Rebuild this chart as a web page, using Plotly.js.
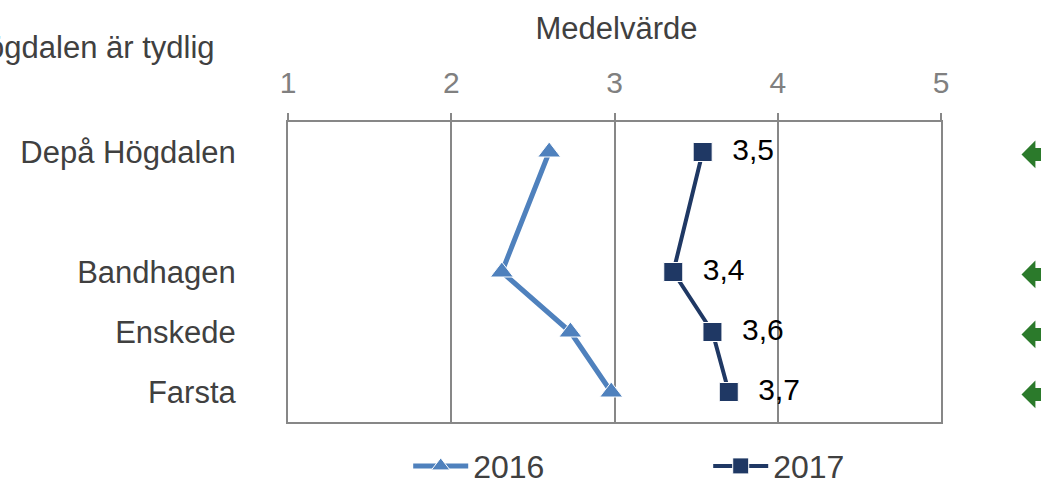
<!DOCTYPE html>
<html>
<head>
<meta charset="utf-8">
<script src="https://cdn.plot.ly/plotly-3.0.1.min.js"></script>
<style>
  html, body { margin: 0; padding: 0; background: #fff; }
  #chart { width: 1041px; height: 479px; }
</style>
</head>
<body>
<div id="chart"></div>
<script>
// --- data ---
const categories = ['Depå Högdalen', ' ', 'Bandhagen', 'Enskede', 'Farsta'];
const places = ['Depå Högdalen', 'Bandhagen', 'Enskede', 'Farsta'];
const values2016 = [2.60, 2.31, 2.73, 2.98];
const values2017 = [3.54, 3.36, 3.60, 3.70];
const trendPlaces = ['Depå Högdalen', 'Bandhagen', 'Enskede', 'Farsta'];
const xTicks = [1, 2, 3, 4, 5];

const font = 'Arial, "Liberation Sans", sans-serif';
const gridColor = '#878787';

const trace2016 = {
    x: values2016, y: places, name: '2016',
    type: 'scatter', mode: 'lines+markers',
    line: { color: '#4f81bd', width: 5 },
    marker: { symbol: 'triangle-up', size: 20, color: '#4f81bd', line: { color: '#fff', width: 1 } },
    cliponaxis: false
};

const trace2017 = {
    x: values2017, y: places, name: '2017',
    type: 'scatter', mode: 'lines+markers+text',
    line: { color: '#1f3864', width: 4 },
    marker: { symbol: 'square', size: 19, color: '#1f3864', line: { color: '#fff', width: 1 } },
    texttemplate: '  %{x:.1f}', textposition: 'middle right',
    textfont: { family: font, size: 30, color: '#000' },
    cliponaxis: false
};

// gröna trendpilar till höger (delvis utanför bild)
const arrows = trendPlaces.map(p => ({
    xref: 'paper', yref: 'y', x: 1.118, y: p,
    text: '⬅', showarrow: false, xanchor: 'left', yanchor: 'middle',
    font: { family: 'DejaVu Sans', size: 56, color: '#2b7a2b' }
}));

const layout = {
    width: 1041, height: 479,
    margin: { l: 288, r: 100, t: 122, b: 57, autoexpand: false },
    paper_bgcolor: '#fff', plot_bgcolor: '#fff',
    separators: ',.',
    font: { family: font, size: 31, color: '#404040' },
    title: {
        text: 'Medelvärde', xref: 'paper', x: 0.503, xanchor: 'center',
        yref: 'container', y: 0.942, yanchor: 'middle',
        font: { family: font, size: 31, color: '#404040' }
    },
    xaxis: {
        side: 'top', range: [1, 5], tickvals: xTicks, ticktext: xTicks.map(String),
        showgrid: true, gridcolor: gridColor, gridwidth: 2,
        showline: true, linecolor: gridColor, linewidth: 2, mirror: true,
        ticks: 'outside', ticklen: 7, tickwidth: 2, tickcolor: gridColor,
        ticklabelstandoff: 8,
        tickfont: { family: font, size: 30, color: '#808080' },
        zeroline: false, fixedrange: true
    },
    yaxis: {
        type: 'category', categoryorder: 'array', categoryarray: categories,
        range: [4.5, -0.5], showgrid: false,
        showline: true, linecolor: gridColor, linewidth: 2, mirror: true,
        ticks: '', ticklabelstandoff: 44,
        tickfont: { family: font, size: 31, color: '#404040' },
        fixedrange: true
    },
    showlegend: true,
    legend: {
        orientation: 'h', xref: 'paper', x: 0.6435, xanchor: 'center',
        y: -0.147, yanchor: 'middle',
        itemwidth: 55,
        entrywidth: 230, entrywidthmode: 'pixels',
        font: { family: font, size: 32, color: '#404040' }
    },
    annotations: [
        {
            xref: 'paper', yref: 'paper', x: -0.109, y: 1.25,
            xanchor: 'right', yanchor: 'middle', showarrow: false,
            text: 'Depå Högdalen är tydlig',
            font: { family: font, size: 31, color: '#404040' }
        },
        ...arrows
    ]
};

Plotly.newPlot('chart', [trace2016, trace2017], layout, { displayModeBar: false, staticPlot: true });
</script>
</body>
</html>
